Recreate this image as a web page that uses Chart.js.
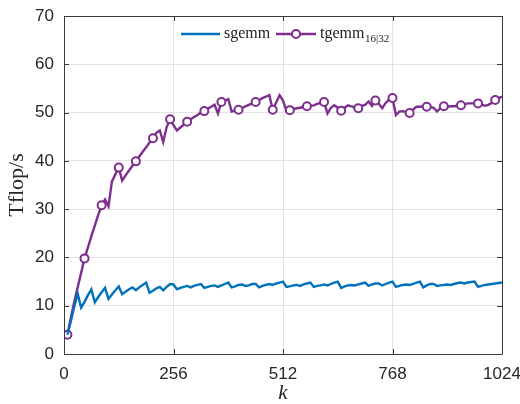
<!DOCTYPE html>
<html>
<head>
<meta charset="utf-8">
<script src="https://cdn.jsdelivr.net/npm/chart.js@4.4.1/dist/chart.umd.min.js"></script>
<style>
html,body{margin:0;padding:0;background:#fff;}
#wrap{width:520px;height:404px;position:relative;}
</style>
</head>
<body>
<div id="wrap"><canvas id="c" width="520" height="404"></canvas></div>
<script>
const kValues = [
  8,16,24,32,40,48,56,64,72,80,88,96,104,112,120,128,
  136,144,152,160,168,176,184,192,200,208,216,224,232,240,248,256,
  264,272,280,288,296,304,312,320,328,336,344,352,360,368,376,384,
  392,400,408,416,424,432,440,448,456,464,472,480,488,496,504,512,
  520,528,536,544,552,560,568,576,584,592,600,608,616,624,632,640,
  648,656,664,672,680,688,696,704,712,720,728,736,744,752,760,768,
  776,784,792,800,808,816,824,832,840,848,856,864,872,880,888,896,
  904,912,920,928,936,944,952,960,968,976,984,992,1000,1008,1016,1024
];
const sgemm = [
  4.0,6.8,9.8,12.5,9.6,10.8,12.2,13.4,10.7,11.8,12.8,13.7,11.4,12.3,13.2,14.0,
  12.4,12.9,13.4,13.8,13.2,13.8,14.3,14.8,12.7,13.1,13.6,13.9,13.2,13.9,14.5,14.4,
  13.4,13.7,13.9,14.1,13.8,14.1,14.3,14.5,13.7,13.9,14.1,14.2,13.9,14.2,14.5,14.8,
  13.8,14.0,14.3,14.4,14.1,14.2,14.5,14.5,13.8,14.1,14.3,14.5,14.3,14.6,14.8,15.0,
  13.9,14.0,14.2,14.3,14.1,14.4,14.6,14.8,13.9,14.1,14.2,14.4,14.2,14.5,14.8,15.0,
  13.7,14.0,14.2,14.3,14.2,14.4,14.6,14.8,14.1,14.4,14.6,14.6,14.2,14.5,14.8,15.0,
  13.9,14.1,14.3,14.4,14.3,14.5,14.8,15.0,13.8,14.2,14.5,14.5,14.1,14.2,14.3,14.4,
  14.3,14.5,14.7,14.8,14.6,14.8,14.9,15.0,13.9,14.1,14.3,14.4,14.5,14.6,14.7,14.8
];
const tgemm = [
  4.0,7.5,10.8,13.8,16.8,19.8,22.1,24.4,26.6,28.8,30.8,32.0,30.6,35.7,37.2,38.6,
  35.9,37.0,38.0,39.0,39.9,40.9,41.9,42.8,43.8,44.7,45.8,46.3,43.9,47.0,48.6,47.4,
  46.3,46.9,47.5,48.1,48.6,49.1,49.5,50.0,50.3,50.8,51.2,51.6,49.8,52.2,52.5,52.8,
  50.2,50.4,50.6,50.9,51.3,51.6,51.9,52.2,52.6,53.0,53.3,53.6,50.6,52.1,53.6,52.5,
  50.4,50.5,50.7,50.9,51.0,51.2,51.3,51.4,51.5,51.8,52.0,52.2,49.8,51.0,51.5,51.0,
  50.4,51.0,51.5,51.3,51.1,50.9,51.4,51.6,52.3,51.4,52.5,51.8,50.9,52.0,52.7,53.0,
  49.5,50.2,50.3,50.1,49.9,50.6,51.2,51.2,51.3,51.2,51.2,51.0,50.2,50.9,51.3,51.2,
  51.3,51.3,51.4,51.5,51.7,51.9,51.9,51.9,51.9,51.7,51.4,51.6,52.0,52.6,53.0,53.3
];
const xTicks = [0,256,512,768,1024];
const yTicks = [0,10,20,30,40,50,60,70];
const seriesNames = ['sgemm','tgemm'];
const tgemmSub = '16|32';

const BLUE = '#0072BD', PURPLE = '#7E2F8E', AXIS = '#3a3a3a';
const toXY = arr => arr.map((v,i)=>({x:kValues[i], y:v}));

const boxPlugin = {
  id:'box',
  afterDraw(chart){
    const {ctx, chartArea:a, scales:{x,y}} = chart;
    ctx.save();
    ctx.strokeStyle = AXIS; ctx.lineWidth = 1;
    ctx.beginPath();
    ctx.rect(Math.round(a.left)+0.5, Math.round(a.top)+0.5, Math.round(a.right-a.left), Math.round(a.bottom-a.top));
    ctx.stroke();
    const L = 5;
    ctx.beginPath();
    xTicks.forEach(v=>{
      const px = Math.round(x.getPixelForValue(v))+0.5;
      ctx.moveTo(px,a.bottom); ctx.lineTo(px,a.bottom-L);
      ctx.moveTo(px,a.top); ctx.lineTo(px,a.top+L);
    });
    yTicks.forEach(v=>{
      const py = Math.round(y.getPixelForValue(v))+0.5;
      ctx.moveTo(a.left,py); ctx.lineTo(a.left+L,py);
      ctx.moveTo(a.right,py); ctx.lineTo(a.right-L,py);
    });
    ctx.stroke();
    // legend
    const ly = 34;
    ctx.lineWidth = 2.5;
    ctx.strokeStyle = BLUE;
    ctx.beginPath(); ctx.moveTo(181,ly); ctx.lineTo(220,ly); ctx.stroke();
    ctx.strokeStyle = PURPLE;
    ctx.beginPath(); ctx.moveTo(276,ly); ctx.lineTo(316,ly); ctx.stroke();
    ctx.fillStyle = '#fff'; ctx.lineWidth = 2;
    ctx.beginPath(); ctx.arc(296,ly,4,0,Math.PI*2); ctx.fill(); ctx.stroke();
    ctx.fillStyle = '#222';
    ctx.textBaseline = 'middle'; ctx.textAlign = 'left';
    ctx.font = '16px "Liberation Serif"';
    ctx.fillText(seriesNames[0], 224, ly);
    ctx.fillText(seriesNames[1], 320, ly);
    const w = ctx.measureText(seriesNames[1]).width;
    ctx.font = '11px "Liberation Serif"';
    ctx.fillText(tgemmSub, 320+w+0.5, ly+5);
    ctx.restore();
  }
};

new Chart(document.getElementById('c'), {
  type:'line',
  data:{
    datasets:[
      {label:seriesNames[0], data:toXY(sgemm), borderColor:BLUE, borderWidth:2.4, pointRadius:0, tension:0, fill:false},
      {label:seriesNames[1], data:toXY(tgemm), borderColor:PURPLE, borderWidth:2.4, tension:0, fill:false,
       pointRadius:ctx=>ctx.dataIndex%5===0?4:0, pointBackgroundColor:'#fff', pointBorderColor:PURPLE, pointBorderWidth:2}
    ]
  },
  options:{
    responsive:false, animation:false, devicePixelRatio:1,
    layout:{padding:{left:0,right:18,top:16,bottom:0}},
    plugins:{legend:{display:false}, tooltip:{enabled:false}},
    scales:{
      x:{type:'linear', min:0, max:1024,
         afterBuildTicks:s=>{s.ticks = xTicks.map(v=>({value:v}));},
         afterFit:s=>{s.height=50; s.paddingLeft=0; s.paddingRight=0;},
         grid:{color:'#e3e3e3', drawTicks:false, lineWidth:1},
         border:{display:false},
         ticks:{padding:10, color:'#262626', font:{family:'Liberation Sans', size:17}, maxRotation:0, autoSkip:false, callback:v=>String(v)},
         title:{display:true, text:'k', color:'#262626', font:{family:'Liberation Serif', size:21, style:'italic', lineHeight:1}, padding:{top:-1,bottom:0}}
      },
      y:{min:0, max:70,
         afterBuildTicks:s=>{s.ticks = yTicks.map(v=>({value:v}));},
         afterFit:s=>{s.width=64; s.paddingTop=0; s.paddingBottom=0;},
         grid:{color:'#e3e3e3', drawTicks:false, lineWidth:1},
         border:{display:false},
         ticks:{padding:10, color:'#262626', font:{family:'Liberation Sans', size:17}, callback:v=>String(v)},
         title:{display:true, text:'Tflop/s', color:'#262626', font:{family:'Liberation Serif', size:22}, padding:{top:4,bottom:0}}
      }
    }
  },
  plugins:[boxPlugin]
});
</script>
</body>
</html>
